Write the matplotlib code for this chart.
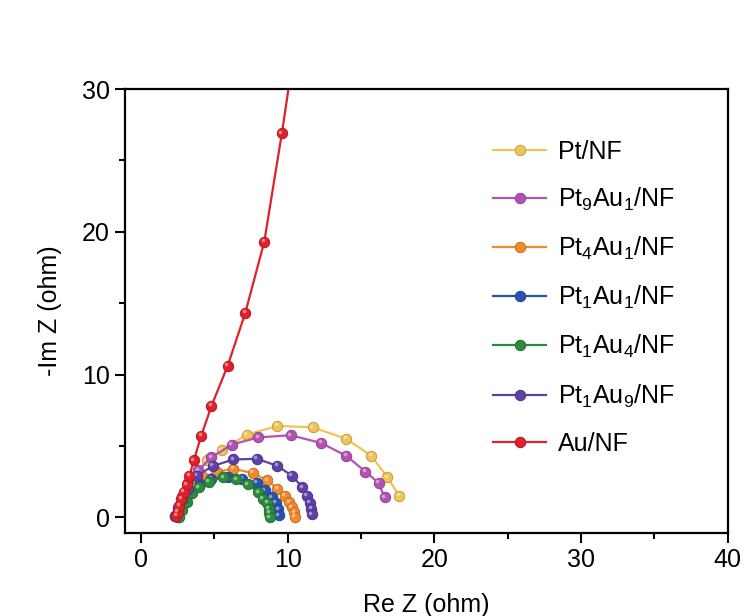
import matplotlib
matplotlib.use("Agg")
import matplotlib.pyplot as plt
import matplotlib.colors as mcolors
from matplotlib.transforms import ScaledTranslation

plt.rcParams['font.family'] = ['Liberation Sans', 'DejaVu Sans']
plt.rcParams['mathtext.fontset'] = 'custom'
plt.rcParams['mathtext.rm'] = 'Liberation Sans'
plt.rcParams['mathtext.it'] = 'Liberation Sans'

# Nyquist data (Re Z, -Im Z) in ohm
pt_x = [2.3, 2.5, 2.8, 3.2, 3.8, 4.5, 5.5, 7.2, 9.3, 11.7, 14.0, 15.7, 16.8, 17.6]
pt_y = [0.1, 0.6, 1.3, 2.1, 3.0, 4.0, 4.7, 5.8, 6.4, 6.3, 5.5, 4.3, 2.8, 1.5]

pt9au1_x = [2.3, 2.5, 2.8, 3.2, 3.9, 4.8, 6.2, 8.0, 10.2, 12.3, 14.0, 15.3, 16.2, 16.6]
pt9au1_y = [0.1, 0.7, 1.5, 2.4, 3.3, 4.2, 5.1, 5.6, 5.75, 5.2, 4.3, 3.2, 2.4, 1.4]

pt4au1_x = [2.4, 2.6, 2.9, 3.4, 4.2, 5.2, 6.3, 7.6, 8.6, 9.3, 9.8, 10.1, 10.3, 10.45, 10.5]
pt4au1_y = [0.1, 0.6, 1.3, 2.1, 2.8, 3.2, 3.4, 3.1, 2.6, 2.0, 1.5, 1.05, 0.7, 0.35, 0.05]

pt1au1_x = [2.5, 2.7, 3.0, 3.4, 4.0, 4.8, 5.9, 6.9, 7.9, 8.45, 8.9, 9.2, 9.35, 9.4]
pt1au1_y = [0.05, 0.5, 1.1, 1.7, 2.3, 2.7, 2.85, 2.7, 2.4, 1.9, 1.4, 1.0, 0.55, 0.15]

pt1au4_x = [2.6, 2.8, 3.1, 3.5, 3.95, 4.6, 5.6, 6.5, 7.3, 8.0, 8.3, 8.6, 8.7, 8.75, 8.8]
pt1au4_y = [0.05, 0.5, 1.1, 1.7, 2.1, 2.5, 2.8, 2.65, 2.3, 1.75, 1.3, 1.0, 0.6, 0.3, 0.0]

pt1au9_x = [2.3, 2.5, 2.8, 3.2, 3.8, 4.9, 6.3, 7.9, 9.3, 10.3, 11.0, 11.3, 11.5, 11.6, 11.65]
pt1au9_y = [0.1, 0.6, 1.3, 2.0, 2.9, 3.6, 4.05, 4.1, 3.6, 2.9, 2.1, 1.5, 1.0, 0.6, 0.2]

au_x = [2.4, 2.5, 2.6, 2.75, 2.9, 3.1, 3.3, 3.6, 4.1, 4.8, 5.9, 7.1, 8.4, 9.6, 10.7]
au_y = [0.1, 0.4, 0.8, 1.3, 1.8, 2.3, 2.9, 4.0, 5.7, 7.8, 10.6, 14.3, 19.3, 26.9, 34.5]

labels = ['Pt/NF', r'Pt$_9$Au$_1$/NF', r'Pt$_4$Au$_1$/NF', r'Pt$_1$Au$_1$/NF',
          r'Pt$_1$Au$_4$/NF', r'Pt$_1$Au$_9$/NF', 'Au/NF']
colors = ['#F0C455', '#B452B4', '#F08A2A', '#2A52B0', '#2A8C3C', '#5E40A8', '#E0202A']
series = [(pt_x, pt_y), (pt9au1_x, pt9au1_y), (pt4au1_x, pt4au1_y),
          (pt1au1_x, pt1au1_y), (pt1au4_x, pt1au4_y), (pt1au9_x, pt1au9_y),
          (au_x, au_y)]


def shade(c, f):
    r, g, b = mcolors.to_rgb(c)
    if f >= 0:
        return (r + (1 - r) * f, g + (1 - g) * f, b + (1 - b) * f)
    return (r * (1 + f), g * (1 + f), b * (1 + f))


fig = plt.figure(figsize=(7.48, 6.16), dpi=100)
ax = fig.add_axes([0.167, 0.1347, 0.806, 0.7208])

# small glossy highlight on each ball marker
hl = ax.transData + ScaledTranslation(-1.2 / 72, 1.2 / 72, fig.dpi_scale_trans)

for (x, y), c, lab in zip(series, colors, labels):
    ax.plot(x, y, '-', color=c, lw=1.6, marker='o', ms=7.5,
            mfc=c, mec=shade(c, -0.2), mew=0.7, label=lab)
    ax.plot(x, y, 'o', ms=2.6, mfc=shade(c, 0.45), mec='none', transform=hl)

ax.set_xlim(-1.1, 40)
ax.set_ylim(-1.1, 30)
ax.set_xticks([0, 10, 20, 30, 40])
ax.set_yticks([0, 10, 20, 30])
ax.set_xticks([5, 15, 25, 35], minor=True)
ax.set_yticks([5, 15, 25], minor=True)
ax.tick_params(which='both', direction='out', width=1.5, labelsize=18,
               top=False, right=False)
ax.tick_params(which='major', length=7, pad=4)
ax.tick_params(which='minor', length=4)
for s in ax.spines.values():
    s.set_linewidth(1.6)

ax.set_xlabel('Re Z (ohm)', fontsize=18, labelpad=15)
ax.set_ylabel('-Im Z (ohm)', fontsize=18, labelpad=14)

leg = ax.legend(loc='upper left', bbox_to_anchor=(0.61, 0.886), frameon=False,
                fontsize=18, handlelength=2.15, handletextpad=0.45,
                labelspacing=0.88, borderpad=0, borderaxespad=0)

fig.savefig('out.png', dpi=100)
